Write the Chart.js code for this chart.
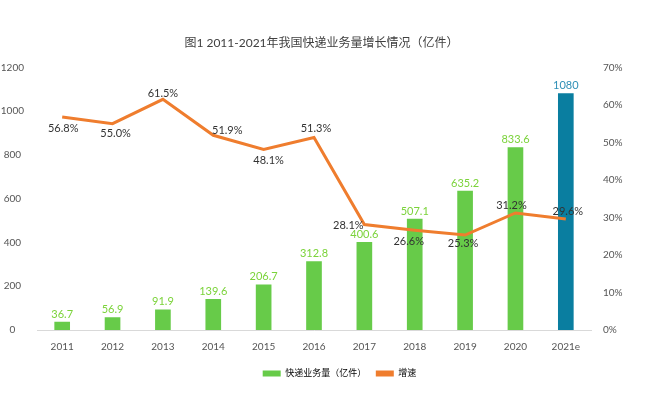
<!DOCTYPE html>
<html><head><meta charset="utf-8">
<script src="https://cdn.jsdelivr.net/npm/chart.js@4/dist/chart.umd.min.js"></script>
<style>html,body{margin:0;padding:0;background:#fff}#wrap{width:651px;height:395px}</style>
</head><body><div id="wrap"><canvas id="c" width="651" height="395"></canvas></div>
<script>
const categories = ['2011','2012','2013','2014','2015','2016','2017','2018','2019','2020','2021e'];
const volume = [36.7, 56.9, 91.9, 139.6, 206.7, 312.8, 400.6, 507.1, 635.2, 833.6, 1080];
const growth = [56.8, 55.0, 61.5, 51.9, 48.1, 51.3, 28.1, 26.6, 25.3, 31.2, 29.6];
const leftTicks = [0, 200, 400, 600, 800, 1000, 1200];
const rightTicks = [0, 10, 20, 30, 40, 50, 60, 70];

const FONT = "Lato, 'Noto Sans CJK SC', sans-serif";
const GREEN = '#67cb49', BLUE = '#0a7ea0', ORANGE = '#ef7d2e';
const barColors = categories.map((c, i) => i === categories.length - 1 ? BLUE : GREEN);
const barLabelColors = categories.map((c, i) => i === categories.length - 1 ? '#2e8fb6' : '#7bd33a');
// label offsets for the growth line labels [dx, dy]
const lineLabelOffsets = [[1,12],[3,10],[0,-6],[14,-5],[5,11],[2,-9],[-16,1],[-6,11],[-2,8],[-4,-8],[2,-8]];

const labelPlugin = {
  id: 'labels',
  afterLayout(chart) {
    if (chart.legend) { chart.legend.left += 18; chart.legend.right += 18; }
  },
  afterDatasetsDraw(chart) {
    const ctx = chart.ctx;
    ctx.save();
    ctx.textAlign = 'center';
    ctx.textBaseline = 'middle';
    ctx.font = '11px ' + FONT;
    const barMeta = chart.getDatasetMeta(0);
    barMeta.data.forEach((el, i) => {
      ctx.fillStyle = barLabelColors[i];
      ctx.fillText(String(volume[i]), el.x, el.y - 8);
    });
    const lineMeta = chart.getDatasetMeta(1);
    ctx.fillStyle = '#333333';
    lineMeta.data.forEach((el, i) => {
      const o = lineLabelOffsets[i];
      ctx.fillText(growth[i].toFixed(1) + '%', el.x + o[0], el.y + o[1]);
    });
    ctx.restore();
  }
};

new Chart(document.getElementById('c'), {
  data: {
    labels: categories,
    datasets: [
      { type: 'bar', label: '快递业务量（亿件）', data: volume, backgroundColor: barColors,
        barThickness: 15, yAxisID: 'y', order: 2 },
      { type: 'line', label: '增速', data: growth, borderColor: ORANGE, backgroundColor: ORANGE,
        borderWidth: 3, pointRadius: 0, tension: 0, yAxisID: 'y1', order: 1 }
    ]
  },
  options: {
    responsive: false,
    animation: false,
    layout: { padding: { top: 28, left: 0, right: 8, bottom: 7 } },
    plugins: {
      title: { display: true, text: '图1 2011-2021年我国快递业务量增长情况（亿件）',
        color: '#404040', font: { family: FONT, size: 12, weight: 'normal' },
        padding: { top: 8, bottom: 17 } },
      legend: { position: 'bottom',
        labels: { color: '#555', font: { family: FONT, size: 9 }, boxWidth: 18, boxHeight: 6,
          padding: 5,
          generateLabels(chart) {
            return [
              { text: '快递业务量（亿件）  ', fillStyle: GREEN, strokeStyle: GREEN, lineWidth: 0, datasetIndex: 0 },
              { text: '增速', fillStyle: ORANGE, strokeStyle: ORANGE, lineWidth: 0, datasetIndex: 1 }
            ];
          } } },
      tooltip: { enabled: false }
    },
    scales: {
      x: { offset: true,
        grid: { display: false, drawTicks: false },
        border: { display: true, color: '#d9d9d9', width: 1 },
        ticks: { color: '#555', font: { family: FONT, size: 10 }, padding: 11 } },
      y: { position: 'left', min: 0, max: 1200,
        afterBuildTicks(s) { s.ticks = leftTicks.map(v => ({ value: v })); },
        afterFit(s) { s.width = 37; },
        grid: { display: false, drawTicks: false }, border: { display: false },
        ticks: { color: '#555', font: { family: FONT, size: 10 }, crossAlign: 'center', padding: 13,
          callback: v => String(v) } },
      y1: { position: 'right', min: 0, max: 70,
        afterBuildTicks(s) { s.ticks = rightTicks.map(v => ({ value: v })); },
        afterFit(s) { s.width = 52; },
        grid: { display: false, drawTicks: false }, border: { display: false },
        ticks: { color: '#555', font: { family: FONT, size: 10 }, padding: 12,
          callback: v => v + '%' } }
    }
  },
  plugins: [labelPlugin]
});
</script></body></html>
